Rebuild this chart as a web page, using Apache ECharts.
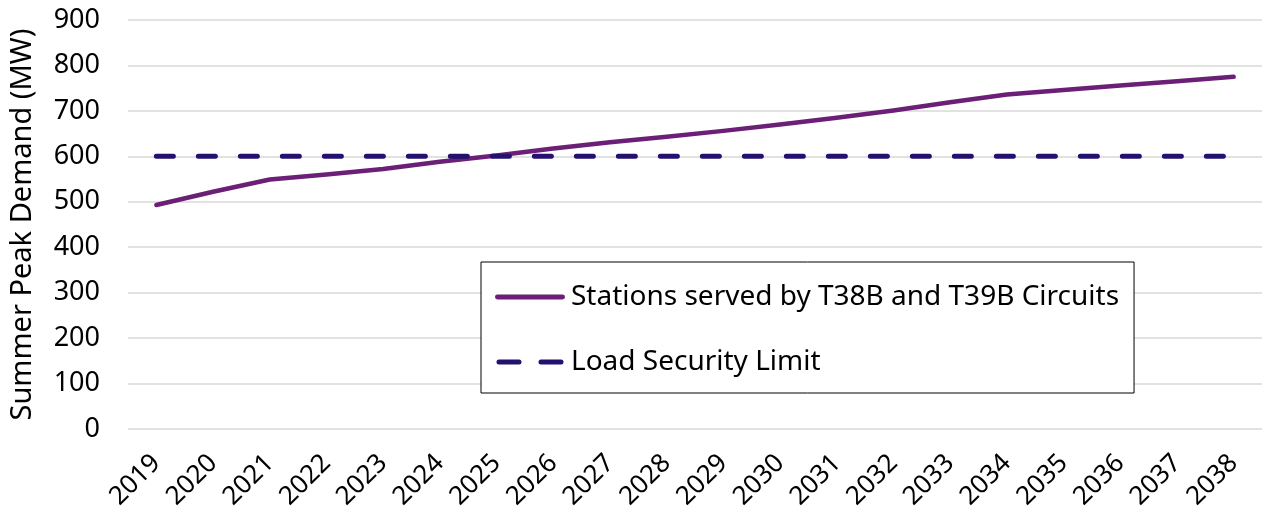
<!DOCTYPE html>
<html><head><meta charset="utf-8">
<script src="https://cdn.jsdelivr.net/npm/echarts@6/dist/echarts.min.js"></script>
<style>html,body{margin:0;padding:0;background:#fff}#c{width:1264px;height:517px}</style>
</head><body><div id="c"></div>
<script>
const years = ['2019','2020','2021','2022','2023','2024','2025','2026','2027','2028','2029','2030','2031','2032','2033','2034','2035','2036','2037','2038'];
const stationDemand = [493,522,549,560,572,588,602,617,631,643,656,670,685,701,719,736,746,756,765,775];
const securityLimit = [600,600,600,600,600,600,600,600,600,600,600,600,600,600,600,600,600,600,600,600];
const yTicks = [0,100,200,300,400,500,600,700,800,900];
const seriesNames = ['Stations served by T38B and T39B Circuits','Load Security Limit'];
const yAxisTitle = 'Summer Peak Demand (MW)';

const FONT = 'Noto Sans';
const C1 = '#6b1f76', C2 = '#23106f';
const chart = echarts.init(document.getElementById('c'), null, {renderer:'canvas'});
chart.setOption({
  animation:false,
  textStyle:{fontFamily:FONT},
  grid:{left:125, right:2, top:20, bottom:88, containLabel:false},
  xAxis:{
    type:'category', data:years, boundaryGap:true,
    axisLine:{show:false}, axisTick:{show:false},
    axisLabel:{rotate:45, fontSize:26, color:'#000', fontFamily:FONT, margin:30, interval:0}
  },
  yAxis:{
    type:'value', min:yTicks[0], max:yTicks[yTicks.length-1], interval:100,
    name:yAxisTitle, nameLocation:'middle', nameGap:91, nameRotate:90,
    nameTextStyle:{fontSize:29, color:'#000', fontFamily:FONT},
    axisLine:{show:false}, axisTick:{show:false},
    axisLabel:{fontSize:27, color:'#000', fontFamily:FONT, margin:28},
    splitLine:{lineStyle:{color:'#d9d9d9', width:1.5}}
  },
  legend:{
    orient:'vertical', left:481, top:262,
    backgroundColor:'#fff', borderColor:'#000', borderWidth:1,
    padding:[21, 15, 17, 14], itemGap:37, itemWidth:70, itemHeight:5,
    textStyle:{fontSize:28, color:'#000', fontFamily:FONT, padding:[0,0,0,1]},
    data:[
      {name:seriesNames[0], icon:'path://M2,0H68A2,2 0 0 1 68,5H2A2,2 0 0 1 2,0Z', itemStyle:{color:C1}},
      {name:seriesNames[1], icon:'path://M2,0H22A2,2 0 0 1 22,5H2A2,2 0 0 1 2,0Z M44,0H64A2,2 0 0 1 64,5H44A2,2 0 0 1 44,0Z', itemStyle:{color:C2}}
    ]
  },
  series:[
    {name:seriesNames[0], type:'line', data:stationDemand, symbol:'none',
     lineStyle:{color:C1, width:4.5, cap:'round', join:'round'}, itemStyle:{color:C1}},
    {name:seriesNames[1], type:'line', data:securityLimit, symbol:'none',
     lineStyle:{color:C2, width:5, type:[17,25], cap:'round'}, itemStyle:{color:C2}}
  ]
});
</script></body></html>
